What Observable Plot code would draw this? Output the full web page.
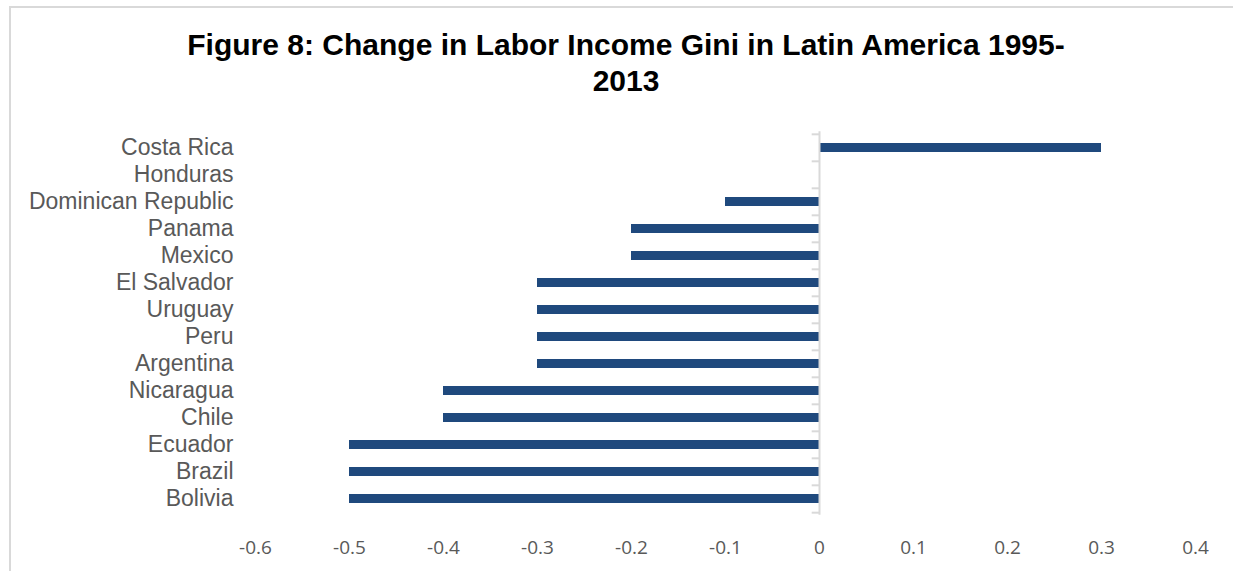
<!DOCTYPE html>
<html>
<head>
<meta charset="utf-8">
<script src="https://cdn.jsdelivr.net/npm/d3@7"></script>
<script src="https://cdn.jsdelivr.net/npm/@observablehq/plot@0.6"></script>
<style>
  html, body { margin: 0; padding: 0; background: #fff; overflow: hidden; }
  #page { position: relative; width: 1233px; height: 571px; overflow: hidden; }
  #frame { position: absolute; left: 9px; top: 6px; width: 1400px; height: 800px;
           border-top: 2px solid #d9d9d9; border-left: 2px solid #d9d9d9; }
  #title { position: absolute; left: 626px; top: 27px; transform: translateX(-50%);
           white-space: nowrap; text-align: center; font-family: "Liberation Sans", Arial, sans-serif;
           font-weight: bold; font-size: 30px; line-height: 36px; color: #000; }
  #chart { position: absolute; left: 0; top: 110px; }
</style>
</head>
<body>
<div id="page">
  <div id="frame"></div>
  <div id="title">Figure 8: Change in Labor Income Gini in Latin America 1995-<br>2013</div>
  <div id="chart"></div>
</div>
<script>
const countries = ["Costa Rica", "Honduras", "Dominican Republic", "Panama", "Mexico", "El Salvador",
  "Uruguay", "Peru", "Argentina", "Nicaragua", "Chile", "Ecuador", "Brazil", "Bolivia"];
const giniChange = [0.3, 0, -0.1, -0.2, -0.2, -0.3, -0.3, -0.3, -0.3, -0.4, -0.4, -0.5, -0.5, -0.5];
const xTicks = [-0.6, -0.5, -0.4, -0.3, -0.2, -0.1, 0, 0.1, 0.2, 0.3, 0.4];

const data = countries.map((c, i) => ({country: c, value: giniChange[i]}));

const W = 1233, H = 461, mTop = 21.3, mBottom = 56.3, mLeft = 255, mRight = 38;
const step = (H - mTop - mBottom) / countries.length;
const pad = 0.65;

const chart = Plot.plot({
  width: W,
  height: H,
  marginTop: mTop,
  marginBottom: mBottom,
  marginLeft: mLeft,
  marginRight: mRight,
  x: {domain: [-0.6, 0.4]},
  y: {domain: countries, paddingInner: pad, paddingOuter: pad / 2},
  style: {background: "transparent"},
  marks: [
    Plot.barX(data, {y: "country", x: "value", fill: "#1F497D"}),
    Plot.ruleX([0], {stroke: "#d9d9d9", strokeWidth: 2}),
    Plot.ruleY(countries, {y: d => d, x1: -0.0078, x2: 0, dy: -step / 2, stroke: "#d9d9d9", strokeWidth: 2}),
    Plot.ruleY([countries[countries.length - 1]], {y: d => d, x1: -0.0078, x2: 0, dy: step / 2, stroke: "#d9d9d9", strokeWidth: 2}),
    Plot.axisY({anchor: "left", tickSize: 0, tickPadding: 22, fontSize: 23,
      fontFamily: "'Liberation Sans', Arial, sans-serif", fill: "#595959", label: null}),
    Plot.axisX(xTicks, {anchor: "bottom", tickSize: 0, tickPadding: 25, fontSize: 19,
      fontFamily: "'Open Sans', sans-serif", fill: "#595959", label: null,
      tickFormat: d => d === 0 ? "0" : String(+d.toFixed(1))})
  ]
});
document.getElementById("chart").appendChild(chart);
</script>
</body>
</html>
